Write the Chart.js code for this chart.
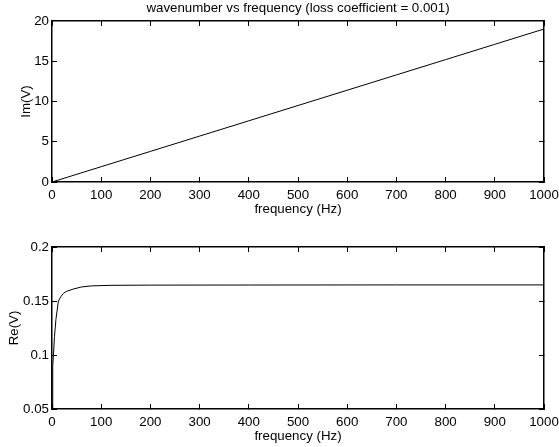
<!DOCTYPE html>
<html>
<head>
<meta charset="utf-8">
<script src="https://cdn.jsdelivr.net/npm/chart.js@4.4.0/dist/chart.umd.min.js"></script>
<style>
    html, body { margin: 0; padding: 0; background: #fff; }
    #wrap { position: relative; width: 559px; height: 447px; }
    #imChart { position: absolute; left: 0; top: 0; }
    #reChart { position: absolute; left: 0; top: 224px; }
</style>
</head>
<body>
<div id="wrap">
    <canvas id="imChart" width="559" height="224"></canvas>
    <canvas id="reChart" width="559" height="223"></canvas>
</div>
<script>
// ===========================
// Data
// ===========================

const titleText = 'wavenumber vs frequency (loss coefficient = 0.001)';
const xLabel = 'frequency (Hz)';

const imFreq = [0, 100, 200, 300, 400, 500, 600, 700, 800, 900, 1000];
const imValues = [0, 1.9, 3.8, 5.7, 7.6, 9.5, 11.4, 13.3, 15.2, 17.1, 19.0];

const reFreq = [0.5, 1, 2, 3, 5, 8, 13, 18, 23, 30, 43, 60, 80, 120, 200, 400, 700, 1000];
const reValues = [0.05, 0.07, 0.09, 0.1, 0.117, 0.133, 0.15, 0.154, 0.157, 0.159, 0.161, 0.163, 0.164, 0.1645, 0.1647, 0.1648, 0.1649, 0.1649];

const xTicks = [0, 100, 200, 300, 400, 500, 600, 700, 800, 900, 1000];
const imTicks = [0, 5, 10, 15, 20];
const reTicks = [0.05, 0.1, 0.15, 0.2];

const FONT = 'Liberation Sans, Arial, Helvetica, sans-serif';
const FSIZE = 13.3;

// ===========================
// Helpers
// ===========================

function toPoints(xs, ys) {
    return xs.map((x, i) => ({ x: x, y: ys[i] }));
}

// inward tick marks (negative tick length), MATLAB box style
function axisGrid() {
    return {
        display: true,
        drawOnChartArea: false,
        drawTicks: true,
        tickLength: -5,
        color: '#000',
        lineWidth: 1
    };
}

function axisBorder() {
    return { display: true, color: '#000', width: 1.5 };
}

function makeChart(id, points, yMin, yMax, yTicks, yLabel, opts) {
    const ctx = document.getElementById(id);
    const setX = s => { s.ticks = xTicks.map(v => ({ value: v })); };
    const setY = s => { s.ticks = yTicks.map(v => ({ value: v })); };

    return new Chart(ctx, {
        type: 'scatter',
        data: {
            datasets: [{
                data: points,
                showLine: true,
                borderColor: '#000',
                borderWidth: 1,
                pointRadius: 0,
                tension: 0
            }]
        },
        options: {
            responsive: false,
            animation: false,
            layout: { padding: { top: opts.padTop, right: 15, left: 0, bottom: 0 } },
            plugins: {
                legend: { display: false },
                tooltip: { enabled: false },
                title: opts.title ? {
                    display: true,
                    fullSize: false,
                    text: opts.title,
                    color: '#000',
                    font: { family: FONT, size: FSIZE, weight: 'normal' },
                    padding: { top: 0, bottom: 5 }
                } : { display: false }
            },
            scales: {
                x: {
                    type: 'linear',
                    position: 'bottom',
                    min: 0,
                    max: 1000,
                    afterBuildTicks: setX,
                    afterFit: s => {
                        s.height = opts.xHeight;
                        s.paddingLeft = 0;
                        s.paddingRight = 0;
                    },
                    grid: axisGrid(),
                    border: axisBorder(),
                    ticks: {
                        color: '#000',
                        padding: 10,
                        maxRotation: 0,
                        font: { family: FONT, size: FSIZE },
                        callback: v => String(v)
                    },
                    title: {
                        display: true,
                        text: xLabel,
                        color: '#000',
                        font: { family: FONT, size: FSIZE },
                        padding: { top: 0, bottom: opts.xTitlePad }
                    }
                },
                xTop: {
                    type: 'linear',
                    position: 'top',
                    min: 0,
                    max: 1000,
                    afterBuildTicks: setX,
                    afterFit: s => {
                        s.height = 0;
                        s.paddingLeft = 0;
                        s.paddingRight = 0;
                    },
                    grid: axisGrid(),
                    border: axisBorder(),
                    ticks: { display: false }
                },
                y: {
                    type: 'linear',
                    position: 'left',
                    min: yMin,
                    max: yMax,
                    afterBuildTicks: setY,
                    afterFit: s => {
                        s.width = 52;
                        s.paddingTop = 0;
                        s.paddingBottom = 0;
                    },
                    grid: axisGrid(),
                    border: axisBorder(),
                    ticks: {
                        color: '#000',
                        padding: 8,
                        font: { family: FONT, size: FSIZE },
                        callback: v => String(v)
                    },
                    title: {
                        display: true,
                        text: yLabel,
                        color: '#000',
                        font: { family: FONT, size: FSIZE },
                        padding: { top: opts.yTitlePad, bottom: 0 }
                    }
                },
                yRight: {
                    type: 'linear',
                    position: 'right',
                    min: yMin,
                    max: yMax,
                    afterBuildTicks: setY,
                    afterFit: s => {
                        s.width = 0;
                        s.paddingTop = 0;
                        s.paddingBottom = 0;
                    },
                    grid: axisGrid(),
                    border: axisBorder(),
                    ticks: { display: false }
                }
            }
        }
    });
}

// ===========================
// Charts
// ===========================

makeChart('imChart', toPoints(imFreq, imValues), 0, 20, imTicks, 'Im(V)', {
    title: titleText,
    padTop: 0,
    xHeight: 42,
    xTitlePad: 7,
    yTitlePad: 18.5
});

makeChart('reChart', toPoints(reFreq, reValues), 0.05, 0.2, reTicks, 'Re(V)', {
    title: null,
    padTop: 23,
    xHeight: 38,
    xTitlePad: 3,
    yTitlePad: 6
});
</script>
</body>
</html>
